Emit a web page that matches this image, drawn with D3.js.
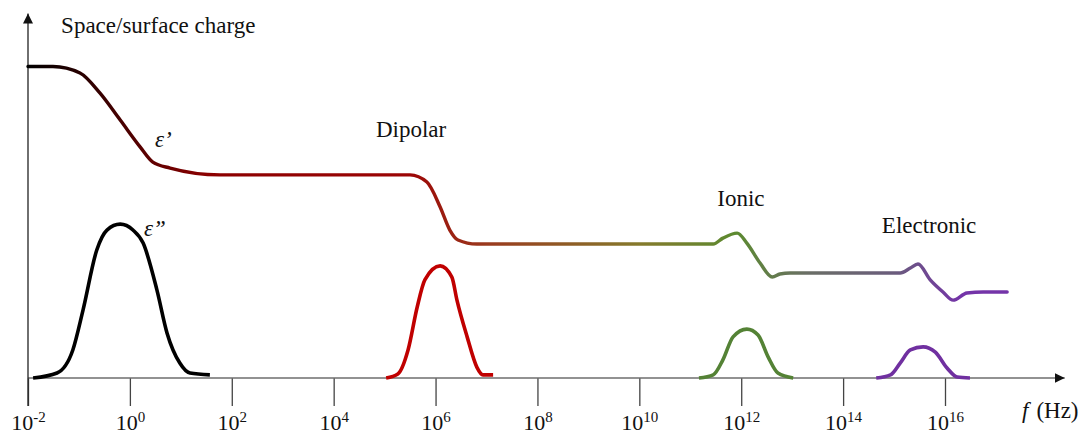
<!DOCTYPE html>
<html>
<head>
<meta charset="utf-8">
<script src="https://cdn.jsdelivr.net/npm/d3@7"></script>
</head>
<body style="margin:0">
<svg id="chart" width="1091" height="435"></svg>
<script>
// ---------- data (log10 of frequency in Hz, relative permittivity units) ----------
const tickExponents = [-2, 0, 2, 4, 6, 8, 10, 12, 14, 16];

// real part ε'
const epsPrimeLogF = [-2.0, -1.51, -0.98, -0.59, -0.19, 0.20, 0.45, 0.79, 1.77, 5.50, 5.83, 6.09, 6.28, 6.44, 6.81,
                      11.45, 11.64, 11.92, 12.11, 12.37, 12.61, 12.76, 12.96, 15.12, 15.32, 15.47, 15.71, 15.96, 16.16, 16.43, 16.75, 17.22];
const epsPrimeVal  = [100, 100, 97.9, 91.5, 82.8, 74.2, 69.3, 67.4, 65.2, 65.2, 62.9, 54.9, 47.5, 44.3, 43.0,
                      43.0, 44.9, 46.5, 43.3, 36.9, 32.4, 33.4, 33.7, 33.7, 35.3, 36.6, 31.5, 27.6, 25.0, 27.3, 27.6, 27.6];

// imaginary part ε'' peaks
const lossSpaceLogF    = [-1.90, -1.43, -1.12, -0.92, -0.65, -0.45, -0.19, 0.06, 0.26, 0.53, 0.73, 0.98, 1.18, 1.57];
const lossSpaceVal     = [0, 1.6, 9.0, 21.8, 41.1, 47.5, 49.4, 47.5, 43.3, 28.3, 14.4, 4.8, 1.6, 1.0];
const lossDipolarLogF  = [5.03, 5.26, 5.46, 5.64, 5.79, 6.09, 6.32, 6.42, 6.62, 6.81, 6.93, 7.13];
const lossDipolarVal   = [0, 1.3, 9.0, 22.8, 31.5, 36.0, 32.4, 25.0, 13.2, 3.5, 1.0, 1.0];
const lossIonicLogF    = [11.17, 11.45, 11.64, 11.84, 12.11, 12.33, 12.53, 12.72, 13.02];
const lossIonicVal     = [0, 1.0, 5.8, 13.2, 15.7, 13.8, 6.7, 1.6, 0];
const lossElecLogF     = [14.65, 14.93, 15.12, 15.32, 15.57, 15.81, 16.04, 16.24, 16.49];
const lossElecVal      = [0, 1.0, 4.8, 9.0, 10.0, 8.3, 3.2, 0.3, 0];

// text labels
const mechanismLabels = ["Space/surface charge", "Dipolar", "Ionic", "Electronic"];
const mechanismLabelLogF = [-1.35, 4.83, 11.53, 14.76];
const mechanismLabelVal  = [110.8, 77.4, 55.2, 46.5];
const axisTitle = "f";
const axisUnit = "(Hz)";

// ---------- styles ----------
const FONT = '"Liberation Serif"';
const epsGradientLogF = [-2, -0.5, 1.5, 5.5, 7.0, 10.0, 11.9, 13.3, 15.0, 16.3];
const epsGradientColor = ["#000000", "#3a0000", "#8b0000", "#9c0505", "#9a3a1e", "#857a2c", "#5c8a30", "#6a6e66", "#6a5c7c", "#7434a8"];
const lossColors = ["#000000", "#c00000", "#548235", "#7030a0"];

// ---------- scales ----------
const svg = d3.select("#chart");
const x = d3.scaleLog().domain([1e-2, 1e16]).range([28, 945]);
const y = d3.scaleLinear().domain([0, 100]).range([378, 66.5]);
const xMaxExp = 18.35;
const yTopVal = 117;

// ---------- axes ----------
const defs = svg.append("defs");
defs.append("marker").attr("id", "arrow").attr("viewBox", "0 0 10 10")
  .attr("refX", 10).attr("refY", 5).attr("markerWidth", 10).attr("markerHeight", 10)
  .attr("markerUnits", "userSpaceOnUse").attr("orient", "auto")
  .append("path").attr("d", "M0,0 L10,5 L0,10 Z").attr("fill", "#111");

const xAxis = d3.axisBottom(x).tickValues(tickExponents.map(e => Math.pow(10, e)))
  .tickSize(28).tickSizeOuter(0).tickFormat("");
const gx = svg.append("g").attr("transform", `translate(0,${y(0)})`).call(xAxis);
gx.attr("font-family", null).attr("font-size", null);
gx.select(".domain").remove();
gx.selectAll(".tick line").attr("stroke", "#444").attr("stroke-width", 1.3);
gx.append("line").attr("x1", x(1e-2)).attr("x2", x(Math.pow(10, xMaxExp)))
  .attr("y1", 0).attr("y2", 0).attr("stroke", "#6e6e6e").attr("stroke-width", 1.6)
  .attr("marker-end", "url(#arrow)");

const labels = gx.selectAll(".tick").append("text")
  .attr("y", 52).attr("text-anchor", "middle")
  .style("font-family", FONT).style("font-size", "22px").attr("fill", "#111");
labels.each(function(d) {
  const e = Math.round(Math.log10(d));
  const t = d3.select(this);
  t.append("tspan").text("10");
  t.append("tspan").style("font-size", "15px").attr("dy", -8).text(String(e));
});

// y axis
svg.append("line").attr("x1", x(1e-2)).attr("x2", x(1e-2))
  .attr("y1", y(0) + 28).attr("y2", y(yTopVal))
  .attr("stroke", "#222").attr("stroke-width", 1.3).attr("marker-end", "url(#arrow)");

// axis title
const at = svg.append("text").attr("x", 1022).attr("y", 418)
  .style("font-family", FONT).style("font-size", "23px").attr("fill", "#111");
at.append("tspan").style("font-style", "italic").text(axisTitle);
at.append("tspan").attr("dx", 8).text(axisUnit);

// ---------- curves ----------
const line = d3.line().x(d => x(Math.pow(10, d[0]))).y(d => y(d[1])).curve(d3.curveMonotoneX);

const gx0 = x(Math.pow(10, epsGradientLogF[0]));
const gx1 = x(Math.pow(10, epsGradientLogF[epsGradientLogF.length - 1]));
const grad = defs.append("linearGradient").attr("id", "epsGrad")
  .attr("gradientUnits", "userSpaceOnUse")
  .attr("x1", gx0).attr("x2", gx1).attr("y1", 0).attr("y2", 0);
epsGradientLogF.forEach((lf, i) => {
  grad.append("stop").attr("offset", (x(Math.pow(10, lf)) - gx0) / (gx1 - gx0))
    .attr("stop-color", epsGradientColor[i]);
});

svg.append("path").datum(epsPrimeLogF.map((lf, i) => [lf, epsPrimeVal[i]]))
  .attr("d", line).attr("fill", "none").attr("stroke", "url(#epsGrad)")
  .attr("stroke-width", 3.4).attr("stroke-linecap", "round").attr("stroke-linejoin", "round");

const lossSeries = [
  [lossSpaceLogF, lossSpaceVal],
  [lossDipolarLogF, lossDipolarVal],
  [lossIonicLogF, lossIonicVal],
  [lossElecLogF, lossElecVal]
];
lossSeries.forEach((s, k) => {
  svg.append("path").datum(s[0].map((lf, i) => [lf, s[1][i]]))
    .attr("d", line).attr("fill", "none").attr("stroke", lossColors[k])
    .attr("stroke-width", 3.6).attr("stroke-linejoin", "round");
});

// ---------- labels ----------
mechanismLabels.forEach((t, i) => {
  svg.append("text").attr("x", x(Math.pow(10, mechanismLabelLogF[i])))
    .attr("y", y(mechanismLabelVal[i])).style("font-family", FONT)
    .style("font-size", "23px").attr("fill", "#111").text(t);
});
svg.append("text").attr("x", 155).attr("y", 147).style("font-family", FONT).style("font-size", "23px")
  .style("font-style", "italic").attr("fill", "#111").text("ε’");
svg.append("text").attr("x", 144).attr("y", 236).style("font-family", FONT).style("font-size", "23px")
  .style("font-style", "italic").attr("fill", "#111").text("ε”");
</script>
</body>
</html>
